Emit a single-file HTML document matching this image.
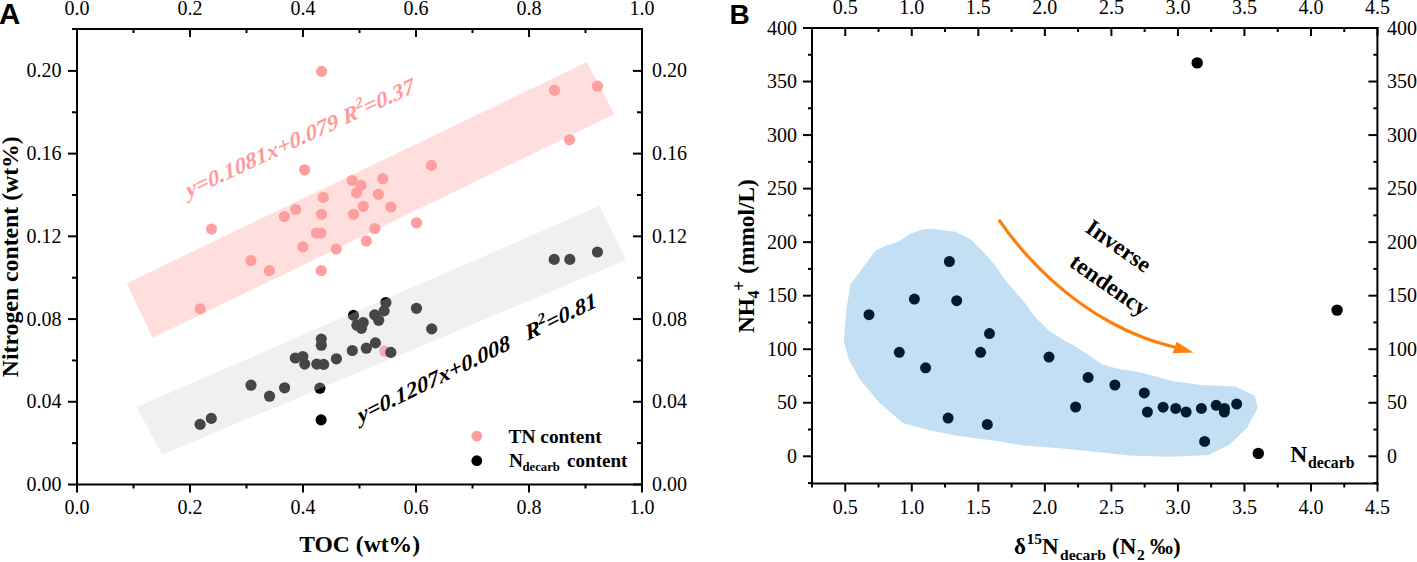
<!DOCTYPE html>
<html><head><meta charset="utf-8"><style>
html,body{margin:0;padding:0;background:#fff;}
body{width:1417px;height:562px;overflow:hidden;font-family:"Liberation Serif",serif;}
svg{display:block;}
</style></head><body>
<svg width="1417" height="562" viewBox="0 0 1417 562" shape-rendering="auto">
<rect width="1417" height="562" fill="#fff"/>
<polygon points="126.8,283.2 586.9,62.0 614.3,114.3 152.5,338.0" fill="#ffdede" />
<circle cx="321.60" cy="71.40" r="5.6" fill="#ff9e9e"/>
<circle cx="554.50" cy="90.40" r="5.6" fill="#ff9e9e"/>
<circle cx="597.40" cy="86.20" r="5.6" fill="#ff9e9e"/>
<circle cx="569.50" cy="139.80" r="5.6" fill="#ff9e9e"/>
<circle cx="431.40" cy="165.40" r="5.6" fill="#ff9e9e"/>
<circle cx="304.60" cy="169.80" r="5.6" fill="#ff9e9e"/>
<circle cx="352.10" cy="180.50" r="5.6" fill="#ff9e9e"/>
<circle cx="361.00" cy="185.40" r="5.6" fill="#ff9e9e"/>
<circle cx="382.80" cy="178.70" r="5.6" fill="#ff9e9e"/>
<circle cx="356.50" cy="192.90" r="5.6" fill="#ff9e9e"/>
<circle cx="378.40" cy="194.30" r="5.6" fill="#ff9e9e"/>
<circle cx="323.20" cy="197.40" r="5.6" fill="#ff9e9e"/>
<circle cx="363.30" cy="206.30" r="5.6" fill="#ff9e9e"/>
<circle cx="390.90" cy="207.00" r="5.6" fill="#ff9e9e"/>
<circle cx="295.70" cy="209.50" r="5.6" fill="#ff9e9e"/>
<circle cx="321.50" cy="214.30" r="5.6" fill="#ff9e9e"/>
<circle cx="353.50" cy="214.30" r="5.6" fill="#ff9e9e"/>
<circle cx="284.40" cy="216.60" r="5.6" fill="#ff9e9e"/>
<circle cx="416.50" cy="222.80" r="5.6" fill="#ff9e9e"/>
<circle cx="374.80" cy="228.50" r="5.6" fill="#ff9e9e"/>
<circle cx="316.50" cy="233.00" r="5.6" fill="#ff9e9e"/>
<circle cx="320.90" cy="233.00" r="5.6" fill="#ff9e9e"/>
<circle cx="366.30" cy="241.00" r="5.6" fill="#ff9e9e"/>
<circle cx="302.90" cy="246.80" r="5.6" fill="#ff9e9e"/>
<circle cx="336.20" cy="249.00" r="5.6" fill="#ff9e9e"/>
<circle cx="211.50" cy="229.00" r="5.6" fill="#ff9e9e"/>
<circle cx="250.90" cy="260.50" r="5.6" fill="#ff9e9e"/>
<circle cx="269.40" cy="270.60" r="5.6" fill="#ff9e9e"/>
<circle cx="321.20" cy="270.60" r="5.6" fill="#ff9e9e"/>
<circle cx="200.20" cy="308.90" r="5.6" fill="#ff9e9e"/>
<circle cx="384.80" cy="351.20" r="5.6" fill="#ff9e9e"/>
<circle cx="200.10" cy="424.40" r="5.6" fill="#000"/>
<circle cx="211.30" cy="418.40" r="5.6" fill="#000"/>
<circle cx="251.00" cy="385.20" r="5.6" fill="#000"/>
<circle cx="269.50" cy="396.20" r="5.6" fill="#000"/>
<circle cx="284.60" cy="387.80" r="5.6" fill="#000"/>
<circle cx="319.90" cy="388.20" r="5.6" fill="#000"/>
<circle cx="321.10" cy="419.90" r="5.6" fill="#000"/>
<circle cx="295.30" cy="358.00" r="5.6" fill="#000"/>
<circle cx="302.80" cy="356.50" r="5.6" fill="#000"/>
<circle cx="304.70" cy="364.10" r="5.6" fill="#000"/>
<circle cx="316.80" cy="364.10" r="5.6" fill="#000"/>
<circle cx="323.60" cy="364.40" r="5.6" fill="#000"/>
<circle cx="336.40" cy="358.80" r="5.6" fill="#000"/>
<circle cx="352.30" cy="350.50" r="5.6" fill="#000"/>
<circle cx="366.30" cy="348.20" r="5.6" fill="#000"/>
<circle cx="375.40" cy="342.90" r="5.6" fill="#000"/>
<circle cx="390.80" cy="352.40" r="5.6" fill="#000"/>
<circle cx="321.30" cy="339.10" r="5.6" fill="#000"/>
<circle cx="321.30" cy="345.20" r="5.6" fill="#000"/>
<circle cx="353.50" cy="315.40" r="5.6" fill="#000"/>
<circle cx="356.90" cy="325.20" r="5.6" fill="#000"/>
<circle cx="363.20" cy="322.50" r="5.6" fill="#000"/>
<circle cx="361.40" cy="328.30" r="5.6" fill="#000"/>
<circle cx="385.90" cy="302.50" r="5.6" fill="#000"/>
<circle cx="384.10" cy="310.90" r="5.6" fill="#000"/>
<circle cx="374.70" cy="314.90" r="5.6" fill="#000"/>
<circle cx="378.70" cy="320.30" r="5.6" fill="#000"/>
<circle cx="416.50" cy="308.30" r="5.6" fill="#000"/>
<circle cx="431.70" cy="328.90" r="5.6" fill="#000"/>
<circle cx="554.20" cy="259.40" r="5.6" fill="#000"/>
<circle cx="569.80" cy="259.40" r="5.6" fill="#000"/>
<circle cx="597.40" cy="252.00" r="5.6" fill="#000"/>
<polygon points="136.8,406.9 599.6,206.0 625.9,260.0 162.0,454.8" fill="rgb(210,210,210)" fill-opacity="0.333"/>
<g transform="matrix(1,-0.467,0.25,1,188.2,197.9)"><text x="0" y="0" font-family='"Liberation Serif", serif' font-size="21.4" font-weight="bold" font-style="italic" fill="#ff9999">y=0.1081x+0.079 R<tspan font-size="14.5" dy="-9" dx="-0.5">2</tspan><tspan dy="9">=0.37</tspan></text></g>
<g transform="matrix(1,-0.4915,0.25,1,359.9,423.2)"><text x="0" y="0" font-family='"Liberation Serif", serif' font-size="21.4" font-weight="bold" font-style="italic" fill="#000">y=0.1207x+0.008 &#160;&#160;R<tspan font-size="14.5" dy="-9" dx="-0.5">2</tspan><tspan dy="9">=0.81</tspan></text></g>
<circle cx="476.80" cy="436.10" r="5.4" fill="#ff9e9e"/>
<circle cx="476.80" cy="460.70" r="5.4" fill="#000"/>
<text x="508.50" y="443.10" font-family='"Liberation Serif", serif' font-size="19.4" text-anchor="start" font-weight="bold" font-style="normal" fill="#000" >TN content</text>
<text x="509.00" y="467.30" font-family='"Liberation Serif", serif' font-size="19.4" text-anchor="start" font-weight="bold" font-style="normal" fill="#000" >N</text>
<text x="522.50" y="471.40" font-family='"Liberation Serif", serif' font-size="12.7" text-anchor="start" font-weight="bold" font-style="normal" fill="#000" >decarb</text>
<text x="567.00" y="467.30" font-family='"Liberation Serif", serif' font-size="19.1" text-anchor="start" font-weight="bold" font-style="normal" fill="#000" >content</text>
<line x1="77.00" y1="29.00" x2="77.00" y2="485.50" stroke="#000" stroke-width="2"/>
<line x1="642.00" y1="28.00" x2="642.00" y2="485.50" stroke="#000" stroke-width="2"/>
<line x1="76.00" y1="29.00" x2="643.00" y2="29.00" stroke="#000" stroke-width="2"/>
<line x1="76.00" y1="484.50" x2="643.00" y2="484.50" stroke="#000" stroke-width="2"/>
<line x1="77.00" y1="484.50" x2="77.00" y2="492.50" stroke="#000" stroke-width="2"/>
<line x1="77.00" y1="29.00" x2="77.00" y2="37.00" stroke="#000" stroke-width="2"/>
<text x="77.00" y="513.50" font-family='"Liberation Serif", serif' font-size="20" text-anchor="middle" font-weight="normal" font-style="normal" fill="#000" >0.0</text>
<text x="77.00" y="15.20" font-family='"Liberation Serif", serif' font-size="20" text-anchor="middle" font-weight="normal" font-style="normal" fill="#000" >0.0</text>
<line x1="133.50" y1="484.50" x2="133.50" y2="488.50" stroke="#000" stroke-width="2"/>
<line x1="133.50" y1="29.00" x2="133.50" y2="33.00" stroke="#000" stroke-width="2"/>
<line x1="190.00" y1="484.50" x2="190.00" y2="492.50" stroke="#000" stroke-width="2"/>
<line x1="190.00" y1="29.00" x2="190.00" y2="37.00" stroke="#000" stroke-width="2"/>
<text x="190.00" y="513.50" font-family='"Liberation Serif", serif' font-size="20" text-anchor="middle" font-weight="normal" font-style="normal" fill="#000" >0.2</text>
<text x="190.00" y="15.20" font-family='"Liberation Serif", serif' font-size="20" text-anchor="middle" font-weight="normal" font-style="normal" fill="#000" >0.2</text>
<line x1="246.50" y1="484.50" x2="246.50" y2="488.50" stroke="#000" stroke-width="2"/>
<line x1="246.50" y1="29.00" x2="246.50" y2="33.00" stroke="#000" stroke-width="2"/>
<line x1="303.00" y1="484.50" x2="303.00" y2="492.50" stroke="#000" stroke-width="2"/>
<line x1="303.00" y1="29.00" x2="303.00" y2="37.00" stroke="#000" stroke-width="2"/>
<text x="303.00" y="513.50" font-family='"Liberation Serif", serif' font-size="20" text-anchor="middle" font-weight="normal" font-style="normal" fill="#000" >0.4</text>
<text x="303.00" y="15.20" font-family='"Liberation Serif", serif' font-size="20" text-anchor="middle" font-weight="normal" font-style="normal" fill="#000" >0.4</text>
<line x1="359.50" y1="484.50" x2="359.50" y2="488.50" stroke="#000" stroke-width="2"/>
<line x1="359.50" y1="29.00" x2="359.50" y2="33.00" stroke="#000" stroke-width="2"/>
<line x1="416.00" y1="484.50" x2="416.00" y2="492.50" stroke="#000" stroke-width="2"/>
<line x1="416.00" y1="29.00" x2="416.00" y2="37.00" stroke="#000" stroke-width="2"/>
<text x="416.00" y="513.50" font-family='"Liberation Serif", serif' font-size="20" text-anchor="middle" font-weight="normal" font-style="normal" fill="#000" >0.6</text>
<text x="416.00" y="15.20" font-family='"Liberation Serif", serif' font-size="20" text-anchor="middle" font-weight="normal" font-style="normal" fill="#000" >0.6</text>
<line x1="472.50" y1="484.50" x2="472.50" y2="488.50" stroke="#000" stroke-width="2"/>
<line x1="472.50" y1="29.00" x2="472.50" y2="33.00" stroke="#000" stroke-width="2"/>
<line x1="529.00" y1="484.50" x2="529.00" y2="492.50" stroke="#000" stroke-width="2"/>
<line x1="529.00" y1="29.00" x2="529.00" y2="37.00" stroke="#000" stroke-width="2"/>
<text x="529.00" y="513.50" font-family='"Liberation Serif", serif' font-size="20" text-anchor="middle" font-weight="normal" font-style="normal" fill="#000" >0.8</text>
<text x="529.00" y="15.20" font-family='"Liberation Serif", serif' font-size="20" text-anchor="middle" font-weight="normal" font-style="normal" fill="#000" >0.8</text>
<line x1="585.50" y1="484.50" x2="585.50" y2="488.50" stroke="#000" stroke-width="2"/>
<line x1="585.50" y1="29.00" x2="585.50" y2="33.00" stroke="#000" stroke-width="2"/>
<line x1="642.00" y1="484.50" x2="642.00" y2="492.50" stroke="#000" stroke-width="2"/>
<line x1="642.00" y1="29.00" x2="642.00" y2="37.00" stroke="#000" stroke-width="2"/>
<text x="642.00" y="513.50" font-family='"Liberation Serif", serif' font-size="20" text-anchor="middle" font-weight="normal" font-style="normal" fill="#000" >1.0</text>
<text x="642.00" y="15.20" font-family='"Liberation Serif", serif' font-size="20" text-anchor="middle" font-weight="normal" font-style="normal" fill="#000" >1.0</text>
<line x1="68.00" y1="484.50" x2="77.00" y2="484.50" stroke="#000" stroke-width="2"/>
<line x1="642.00" y1="484.50" x2="633.00" y2="484.50" stroke="#000" stroke-width="2"/>
<text x="61.50" y="491.00" font-family='"Liberation Serif", serif' font-size="20" text-anchor="end" font-weight="normal" font-style="normal" fill="#000" >0.00</text>
<text x="652.00" y="491.00" font-family='"Liberation Serif", serif' font-size="20" text-anchor="start" font-weight="normal" font-style="normal" fill="#000" >0.00</text>
<line x1="72.00" y1="443.14" x2="77.00" y2="443.14" stroke="#000" stroke-width="2"/>
<line x1="642.00" y1="443.14" x2="637.00" y2="443.14" stroke="#000" stroke-width="2"/>
<line x1="68.00" y1="401.78" x2="77.00" y2="401.78" stroke="#000" stroke-width="2"/>
<line x1="642.00" y1="401.78" x2="633.00" y2="401.78" stroke="#000" stroke-width="2"/>
<text x="61.50" y="408.28" font-family='"Liberation Serif", serif' font-size="20" text-anchor="end" font-weight="normal" font-style="normal" fill="#000" >0.04</text>
<text x="652.00" y="408.28" font-family='"Liberation Serif", serif' font-size="20" text-anchor="start" font-weight="normal" font-style="normal" fill="#000" >0.04</text>
<line x1="72.00" y1="360.42" x2="77.00" y2="360.42" stroke="#000" stroke-width="2"/>
<line x1="642.00" y1="360.42" x2="637.00" y2="360.42" stroke="#000" stroke-width="2"/>
<line x1="68.00" y1="319.06" x2="77.00" y2="319.06" stroke="#000" stroke-width="2"/>
<line x1="642.00" y1="319.06" x2="633.00" y2="319.06" stroke="#000" stroke-width="2"/>
<text x="61.50" y="325.56" font-family='"Liberation Serif", serif' font-size="20" text-anchor="end" font-weight="normal" font-style="normal" fill="#000" >0.08</text>
<text x="652.00" y="325.56" font-family='"Liberation Serif", serif' font-size="20" text-anchor="start" font-weight="normal" font-style="normal" fill="#000" >0.08</text>
<line x1="72.00" y1="277.70" x2="77.00" y2="277.70" stroke="#000" stroke-width="2"/>
<line x1="642.00" y1="277.70" x2="637.00" y2="277.70" stroke="#000" stroke-width="2"/>
<line x1="68.00" y1="236.34" x2="77.00" y2="236.34" stroke="#000" stroke-width="2"/>
<line x1="642.00" y1="236.34" x2="633.00" y2="236.34" stroke="#000" stroke-width="2"/>
<text x="61.50" y="242.84" font-family='"Liberation Serif", serif' font-size="20" text-anchor="end" font-weight="normal" font-style="normal" fill="#000" >0.12</text>
<text x="652.00" y="242.84" font-family='"Liberation Serif", serif' font-size="20" text-anchor="start" font-weight="normal" font-style="normal" fill="#000" >0.12</text>
<line x1="72.00" y1="194.98" x2="77.00" y2="194.98" stroke="#000" stroke-width="2"/>
<line x1="642.00" y1="194.98" x2="637.00" y2="194.98" stroke="#000" stroke-width="2"/>
<line x1="68.00" y1="153.62" x2="77.00" y2="153.62" stroke="#000" stroke-width="2"/>
<line x1="642.00" y1="153.62" x2="633.00" y2="153.62" stroke="#000" stroke-width="2"/>
<text x="61.50" y="160.12" font-family='"Liberation Serif", serif' font-size="20" text-anchor="end" font-weight="normal" font-style="normal" fill="#000" >0.16</text>
<text x="652.00" y="160.12" font-family='"Liberation Serif", serif' font-size="20" text-anchor="start" font-weight="normal" font-style="normal" fill="#000" >0.16</text>
<line x1="72.00" y1="112.26" x2="77.00" y2="112.26" stroke="#000" stroke-width="2"/>
<line x1="642.00" y1="112.26" x2="637.00" y2="112.26" stroke="#000" stroke-width="2"/>
<line x1="68.00" y1="70.90" x2="77.00" y2="70.90" stroke="#000" stroke-width="2"/>
<line x1="642.00" y1="70.90" x2="633.00" y2="70.90" stroke="#000" stroke-width="2"/>
<text x="61.50" y="77.40" font-family='"Liberation Serif", serif' font-size="20" text-anchor="end" font-weight="normal" font-style="normal" fill="#000" >0.20</text>
<text x="652.00" y="77.40" font-family='"Liberation Serif", serif' font-size="20" text-anchor="start" font-weight="normal" font-style="normal" fill="#000" >0.20</text>
<line x1="72.00" y1="29.00" x2="77.00" y2="29.00" stroke="#000" stroke-width="2"/>
<line x1="642.00" y1="29.00" x2="637.00" y2="29.00" stroke="#000" stroke-width="2"/>
<text x="359.60" y="552.40" font-family='"Liberation Serif", serif' font-size="23.6" text-anchor="middle" font-weight="bold" font-style="normal" fill="#000" >TOC (wt%)</text>
<text transform="translate(18.4,256.7) rotate(-90)" font-family='"Liberation Serif", serif' font-size="23.75" font-weight="bold" text-anchor="middle">Nitrogen content (wt%)</text>
<text x="-0.90" y="23.80" font-family='"Liberation Sans", sans-serif' font-size="29.5" text-anchor="start" font-weight="bold" font-style="normal" fill="#000" >A</text>
<polygon points="844.7,329.6 846.6,308.0 850.5,284.6 863.3,267.0 876.0,250.3 886.7,245.4 898.5,241.5 910.2,233.7 922.0,229.4 931.7,228.8 955.2,231.7 970.9,239.6 984.6,253.3 996.3,267.0 1004.1,278.7 1011.7,287.6 1023.5,301.3 1035.2,317.0 1048.9,330.7 1064.6,340.4 1078.3,348.3 1090.0,356.1 1101.7,363.9 1117.4,368.8 1137.0,371.7 1151.4,375.3 1174.5,381.6 1201.2,385.1 1235.0,386.4 1254.6,395.8 1257.8,407.4 1247.5,427.0 1229.7,444.7 1208.3,455.1 1183.4,456.3 1165.6,456.7 1130.0,455.4 1092.5,451.4 1057.8,447.9 1023.1,445.6 1000.0,441.5 957.5,435.8 928.1,429.9 902.7,423.0 879.2,402.5 859.6,379.0 848.8,359.4 843.9,341.8" fill="#c3dff3" />
<circle cx="949.40" cy="261.50" r="5.5" fill="#021a2e"/>
<circle cx="914.40" cy="299.10" r="5.5" fill="#021a2e"/>
<circle cx="956.70" cy="300.70" r="5.5" fill="#021a2e"/>
<circle cx="869.00" cy="314.70" r="5.5" fill="#021a2e"/>
<circle cx="989.50" cy="333.60" r="5.5" fill="#021a2e"/>
<circle cx="899.30" cy="352.30" r="5.5" fill="#021a2e"/>
<circle cx="980.60" cy="352.30" r="5.5" fill="#021a2e"/>
<circle cx="925.60" cy="367.80" r="5.5" fill="#021a2e"/>
<circle cx="948.10" cy="418.10" r="5.5" fill="#021a2e"/>
<circle cx="987.30" cy="424.40" r="5.5" fill="#021a2e"/>
<circle cx="1049.00" cy="357.10" r="5.5" fill="#021a2e"/>
<circle cx="1088.10" cy="377.40" r="5.5" fill="#021a2e"/>
<circle cx="1114.90" cy="385.00" r="5.5" fill="#021a2e"/>
<circle cx="1075.60" cy="407.00" r="5.5" fill="#021a2e"/>
<circle cx="1144.30" cy="392.90" r="5.5" fill="#021a2e"/>
<circle cx="1147.40" cy="412.00" r="5.5" fill="#021a2e"/>
<circle cx="1163.10" cy="407.20" r="5.5" fill="#021a2e"/>
<circle cx="1175.70" cy="408.40" r="5.5" fill="#021a2e"/>
<circle cx="1186.10" cy="412.00" r="5.5" fill="#021a2e"/>
<circle cx="1201.40" cy="408.40" r="5.5" fill="#021a2e"/>
<circle cx="1216.20" cy="405.30" r="5.5" fill="#021a2e"/>
<circle cx="1224.50" cy="408.40" r="5.5" fill="#021a2e"/>
<circle cx="1224.30" cy="412.10" r="5.5" fill="#021a2e"/>
<circle cx="1236.70" cy="404.00" r="5.5" fill="#021a2e"/>
<circle cx="1204.60" cy="441.40" r="5.5" fill="#021a2e"/>
<circle cx="1197.20" cy="62.90" r="5.7" fill="#000"/>
<circle cx="1337.10" cy="310.10" r="5.7" fill="#000"/>
<circle cx="1258.30" cy="453.40" r="5.7" fill="#000"/>
<path d="M998.8,219.6 C1030,265 1070,300 1110,322 C1135,336 1155,342 1176,347.5" fill="none" stroke="#ff7f0e" stroke-width="3.2"/>
<polygon points="1193.4,352.4 1176.6,341.8 1172.6,353.2" fill="#ff7f0e" />
<text transform="translate(1084,231) rotate(35)" font-family='"Liberation Serif", serif' font-size="23.3" font-weight="bold" fill="#000">Inverse</text>
<text transform="translate(1068,265.5) rotate(35)" font-family='"Liberation Serif", serif' font-size="23.6" font-weight="bold" fill="#000">tendency</text>
<text x="1290.30" y="462.00" font-family='"Liberation Serif", serif' font-size="23.5" text-anchor="start" font-weight="bold" font-style="normal" fill="#000" >N</text>
<text x="1308.00" y="467.80" font-family='"Liberation Serif", serif' font-size="15.8" text-anchor="start" font-weight="bold" font-style="normal" fill="#000" >decarb</text>
<line x1="812.00" y1="28.00" x2="812.00" y2="484.50" stroke="#000" stroke-width="2"/>
<line x1="1377.40" y1="27.00" x2="1377.40" y2="484.50" stroke="#000" stroke-width="2"/>
<line x1="811.00" y1="28.00" x2="1378.40" y2="28.00" stroke="#000" stroke-width="2"/>
<line x1="811.00" y1="483.50" x2="1378.40" y2="483.50" stroke="#000" stroke-width="2"/>
<line x1="811.97" y1="483.50" x2="811.97" y2="487.50" stroke="#000" stroke-width="2"/>
<line x1="811.97" y1="28.00" x2="811.97" y2="32.00" stroke="#000" stroke-width="2"/>
<line x1="845.24" y1="483.50" x2="845.24" y2="491.50" stroke="#000" stroke-width="2"/>
<line x1="845.24" y1="28.00" x2="845.24" y2="36.00" stroke="#000" stroke-width="2"/>
<text x="845.24" y="514.00" font-family='"Liberation Serif", serif' font-size="20" text-anchor="middle" font-weight="normal" font-style="normal" fill="#000" >0.5</text>
<text x="845.24" y="14.40" font-family='"Liberation Serif", serif' font-size="20" text-anchor="middle" font-weight="normal" font-style="normal" fill="#000" >0.5</text>
<line x1="878.50" y1="483.50" x2="878.50" y2="487.50" stroke="#000" stroke-width="2"/>
<line x1="878.50" y1="28.00" x2="878.50" y2="32.00" stroke="#000" stroke-width="2"/>
<line x1="911.77" y1="483.50" x2="911.77" y2="491.50" stroke="#000" stroke-width="2"/>
<line x1="911.77" y1="28.00" x2="911.77" y2="36.00" stroke="#000" stroke-width="2"/>
<text x="911.77" y="514.00" font-family='"Liberation Serif", serif' font-size="20" text-anchor="middle" font-weight="normal" font-style="normal" fill="#000" >1.0</text>
<text x="911.77" y="14.40" font-family='"Liberation Serif", serif' font-size="20" text-anchor="middle" font-weight="normal" font-style="normal" fill="#000" >1.0</text>
<line x1="945.04" y1="483.50" x2="945.04" y2="487.50" stroke="#000" stroke-width="2"/>
<line x1="945.04" y1="28.00" x2="945.04" y2="32.00" stroke="#000" stroke-width="2"/>
<line x1="978.31" y1="483.50" x2="978.31" y2="491.50" stroke="#000" stroke-width="2"/>
<line x1="978.31" y1="28.00" x2="978.31" y2="36.00" stroke="#000" stroke-width="2"/>
<text x="978.31" y="514.00" font-family='"Liberation Serif", serif' font-size="20" text-anchor="middle" font-weight="normal" font-style="normal" fill="#000" >1.5</text>
<text x="978.31" y="14.40" font-family='"Liberation Serif", serif' font-size="20" text-anchor="middle" font-weight="normal" font-style="normal" fill="#000" >1.5</text>
<line x1="1011.57" y1="483.50" x2="1011.57" y2="487.50" stroke="#000" stroke-width="2"/>
<line x1="1011.57" y1="28.00" x2="1011.57" y2="32.00" stroke="#000" stroke-width="2"/>
<line x1="1044.84" y1="483.50" x2="1044.84" y2="491.50" stroke="#000" stroke-width="2"/>
<line x1="1044.84" y1="28.00" x2="1044.84" y2="36.00" stroke="#000" stroke-width="2"/>
<text x="1044.84" y="514.00" font-family='"Liberation Serif", serif' font-size="20" text-anchor="middle" font-weight="normal" font-style="normal" fill="#000" >2.0</text>
<text x="1044.84" y="14.40" font-family='"Liberation Serif", serif' font-size="20" text-anchor="middle" font-weight="normal" font-style="normal" fill="#000" >2.0</text>
<line x1="1078.11" y1="483.50" x2="1078.11" y2="487.50" stroke="#000" stroke-width="2"/>
<line x1="1078.11" y1="28.00" x2="1078.11" y2="32.00" stroke="#000" stroke-width="2"/>
<line x1="1111.38" y1="483.50" x2="1111.38" y2="491.50" stroke="#000" stroke-width="2"/>
<line x1="1111.38" y1="28.00" x2="1111.38" y2="36.00" stroke="#000" stroke-width="2"/>
<text x="1111.38" y="514.00" font-family='"Liberation Serif", serif' font-size="20" text-anchor="middle" font-weight="normal" font-style="normal" fill="#000" >2.5</text>
<text x="1111.38" y="14.40" font-family='"Liberation Serif", serif' font-size="20" text-anchor="middle" font-weight="normal" font-style="normal" fill="#000" >2.5</text>
<line x1="1144.64" y1="483.50" x2="1144.64" y2="487.50" stroke="#000" stroke-width="2"/>
<line x1="1144.64" y1="28.00" x2="1144.64" y2="32.00" stroke="#000" stroke-width="2"/>
<line x1="1177.91" y1="483.50" x2="1177.91" y2="491.50" stroke="#000" stroke-width="2"/>
<line x1="1177.91" y1="28.00" x2="1177.91" y2="36.00" stroke="#000" stroke-width="2"/>
<text x="1177.91" y="514.00" font-family='"Liberation Serif", serif' font-size="20" text-anchor="middle" font-weight="normal" font-style="normal" fill="#000" >3.0</text>
<text x="1177.91" y="14.40" font-family='"Liberation Serif", serif' font-size="20" text-anchor="middle" font-weight="normal" font-style="normal" fill="#000" >3.0</text>
<line x1="1211.18" y1="483.50" x2="1211.18" y2="487.50" stroke="#000" stroke-width="2"/>
<line x1="1211.18" y1="28.00" x2="1211.18" y2="32.00" stroke="#000" stroke-width="2"/>
<line x1="1244.45" y1="483.50" x2="1244.45" y2="491.50" stroke="#000" stroke-width="2"/>
<line x1="1244.45" y1="28.00" x2="1244.45" y2="36.00" stroke="#000" stroke-width="2"/>
<text x="1244.45" y="514.00" font-family='"Liberation Serif", serif' font-size="20" text-anchor="middle" font-weight="normal" font-style="normal" fill="#000" >3.5</text>
<text x="1244.45" y="14.40" font-family='"Liberation Serif", serif' font-size="20" text-anchor="middle" font-weight="normal" font-style="normal" fill="#000" >3.5</text>
<line x1="1277.71" y1="483.50" x2="1277.71" y2="487.50" stroke="#000" stroke-width="2"/>
<line x1="1277.71" y1="28.00" x2="1277.71" y2="32.00" stroke="#000" stroke-width="2"/>
<line x1="1310.98" y1="483.50" x2="1310.98" y2="491.50" stroke="#000" stroke-width="2"/>
<line x1="1310.98" y1="28.00" x2="1310.98" y2="36.00" stroke="#000" stroke-width="2"/>
<text x="1310.98" y="514.00" font-family='"Liberation Serif", serif' font-size="20" text-anchor="middle" font-weight="normal" font-style="normal" fill="#000" >4.0</text>
<text x="1310.98" y="14.40" font-family='"Liberation Serif", serif' font-size="20" text-anchor="middle" font-weight="normal" font-style="normal" fill="#000" >4.0</text>
<line x1="1344.25" y1="483.50" x2="1344.25" y2="487.50" stroke="#000" stroke-width="2"/>
<line x1="1344.25" y1="28.00" x2="1344.25" y2="32.00" stroke="#000" stroke-width="2"/>
<line x1="1377.51" y1="483.50" x2="1377.51" y2="491.50" stroke="#000" stroke-width="2"/>
<line x1="1377.51" y1="28.00" x2="1377.51" y2="36.00" stroke="#000" stroke-width="2"/>
<text x="1377.51" y="514.00" font-family='"Liberation Serif", serif' font-size="20" text-anchor="middle" font-weight="normal" font-style="normal" fill="#000" >4.5</text>
<text x="1377.51" y="14.40" font-family='"Liberation Serif", serif' font-size="20" text-anchor="middle" font-weight="normal" font-style="normal" fill="#000" >4.5</text>
<line x1="808.00" y1="483.07" x2="812.00" y2="483.07" stroke="#000" stroke-width="2"/>
<line x1="1377.40" y1="483.07" x2="1373.40" y2="483.07" stroke="#000" stroke-width="2"/>
<line x1="803.00" y1="456.30" x2="812.00" y2="456.30" stroke="#000" stroke-width="2"/>
<line x1="1377.40" y1="456.30" x2="1368.40" y2="456.30" stroke="#000" stroke-width="2"/>
<text x="797.00" y="462.80" font-family='"Liberation Serif", serif' font-size="20" text-anchor="end" font-weight="normal" font-style="normal" fill="#000" >0</text>
<text x="1387.00" y="462.80" font-family='"Liberation Serif", serif' font-size="20" text-anchor="start" font-weight="normal" font-style="normal" fill="#000" >0</text>
<line x1="808.00" y1="429.53" x2="812.00" y2="429.53" stroke="#000" stroke-width="2"/>
<line x1="1377.40" y1="429.53" x2="1373.40" y2="429.53" stroke="#000" stroke-width="2"/>
<line x1="803.00" y1="402.76" x2="812.00" y2="402.76" stroke="#000" stroke-width="2"/>
<line x1="1377.40" y1="402.76" x2="1368.40" y2="402.76" stroke="#000" stroke-width="2"/>
<text x="797.00" y="409.26" font-family='"Liberation Serif", serif' font-size="20" text-anchor="end" font-weight="normal" font-style="normal" fill="#000" >50</text>
<text x="1387.00" y="409.26" font-family='"Liberation Serif", serif' font-size="20" text-anchor="start" font-weight="normal" font-style="normal" fill="#000" >50</text>
<line x1="808.00" y1="375.99" x2="812.00" y2="375.99" stroke="#000" stroke-width="2"/>
<line x1="1377.40" y1="375.99" x2="1373.40" y2="375.99" stroke="#000" stroke-width="2"/>
<line x1="803.00" y1="349.23" x2="812.00" y2="349.23" stroke="#000" stroke-width="2"/>
<line x1="1377.40" y1="349.23" x2="1368.40" y2="349.23" stroke="#000" stroke-width="2"/>
<text x="797.00" y="355.73" font-family='"Liberation Serif", serif' font-size="20" text-anchor="end" font-weight="normal" font-style="normal" fill="#000" >100</text>
<text x="1387.00" y="355.73" font-family='"Liberation Serif", serif' font-size="20" text-anchor="start" font-weight="normal" font-style="normal" fill="#000" >100</text>
<line x1="808.00" y1="322.46" x2="812.00" y2="322.46" stroke="#000" stroke-width="2"/>
<line x1="1377.40" y1="322.46" x2="1373.40" y2="322.46" stroke="#000" stroke-width="2"/>
<line x1="803.00" y1="295.69" x2="812.00" y2="295.69" stroke="#000" stroke-width="2"/>
<line x1="1377.40" y1="295.69" x2="1368.40" y2="295.69" stroke="#000" stroke-width="2"/>
<text x="797.00" y="302.19" font-family='"Liberation Serif", serif' font-size="20" text-anchor="end" font-weight="normal" font-style="normal" fill="#000" >150</text>
<text x="1387.00" y="302.19" font-family='"Liberation Serif", serif' font-size="20" text-anchor="start" font-weight="normal" font-style="normal" fill="#000" >150</text>
<line x1="808.00" y1="268.92" x2="812.00" y2="268.92" stroke="#000" stroke-width="2"/>
<line x1="1377.40" y1="268.92" x2="1373.40" y2="268.92" stroke="#000" stroke-width="2"/>
<line x1="803.00" y1="242.15" x2="812.00" y2="242.15" stroke="#000" stroke-width="2"/>
<line x1="1377.40" y1="242.15" x2="1368.40" y2="242.15" stroke="#000" stroke-width="2"/>
<text x="797.00" y="248.65" font-family='"Liberation Serif", serif' font-size="20" text-anchor="end" font-weight="normal" font-style="normal" fill="#000" >200</text>
<text x="1387.00" y="248.65" font-family='"Liberation Serif", serif' font-size="20" text-anchor="start" font-weight="normal" font-style="normal" fill="#000" >200</text>
<line x1="808.00" y1="215.38" x2="812.00" y2="215.38" stroke="#000" stroke-width="2"/>
<line x1="1377.40" y1="215.38" x2="1373.40" y2="215.38" stroke="#000" stroke-width="2"/>
<line x1="803.00" y1="188.61" x2="812.00" y2="188.61" stroke="#000" stroke-width="2"/>
<line x1="1377.40" y1="188.61" x2="1368.40" y2="188.61" stroke="#000" stroke-width="2"/>
<text x="797.00" y="195.11" font-family='"Liberation Serif", serif' font-size="20" text-anchor="end" font-weight="normal" font-style="normal" fill="#000" >250</text>
<text x="1387.00" y="195.11" font-family='"Liberation Serif", serif' font-size="20" text-anchor="start" font-weight="normal" font-style="normal" fill="#000" >250</text>
<line x1="808.00" y1="161.84" x2="812.00" y2="161.84" stroke="#000" stroke-width="2"/>
<line x1="1377.40" y1="161.84" x2="1373.40" y2="161.84" stroke="#000" stroke-width="2"/>
<line x1="803.00" y1="135.07" x2="812.00" y2="135.07" stroke="#000" stroke-width="2"/>
<line x1="1377.40" y1="135.07" x2="1368.40" y2="135.07" stroke="#000" stroke-width="2"/>
<text x="797.00" y="141.57" font-family='"Liberation Serif", serif' font-size="20" text-anchor="end" font-weight="normal" font-style="normal" fill="#000" >300</text>
<text x="1387.00" y="141.57" font-family='"Liberation Serif", serif' font-size="20" text-anchor="start" font-weight="normal" font-style="normal" fill="#000" >300</text>
<line x1="808.00" y1="108.31" x2="812.00" y2="108.31" stroke="#000" stroke-width="2"/>
<line x1="1377.40" y1="108.31" x2="1373.40" y2="108.31" stroke="#000" stroke-width="2"/>
<line x1="803.00" y1="81.54" x2="812.00" y2="81.54" stroke="#000" stroke-width="2"/>
<line x1="1377.40" y1="81.54" x2="1368.40" y2="81.54" stroke="#000" stroke-width="2"/>
<text x="797.00" y="88.04" font-family='"Liberation Serif", serif' font-size="20" text-anchor="end" font-weight="normal" font-style="normal" fill="#000" >350</text>
<text x="1387.00" y="88.04" font-family='"Liberation Serif", serif' font-size="20" text-anchor="start" font-weight="normal" font-style="normal" fill="#000" >350</text>
<line x1="808.00" y1="54.77" x2="812.00" y2="54.77" stroke="#000" stroke-width="2"/>
<line x1="1377.40" y1="54.77" x2="1373.40" y2="54.77" stroke="#000" stroke-width="2"/>
<line x1="803.00" y1="28.00" x2="812.00" y2="28.00" stroke="#000" stroke-width="2"/>
<line x1="1377.40" y1="28.00" x2="1368.40" y2="28.00" stroke="#000" stroke-width="2"/>
<text x="797.00" y="34.50" font-family='"Liberation Serif", serif' font-size="20" text-anchor="end" font-weight="normal" font-style="normal" fill="#000" >400</text>
<text x="1387.00" y="34.50" font-family='"Liberation Serif", serif' font-size="20" text-anchor="start" font-weight="normal" font-style="normal" fill="#000" >400</text>
<text x="1014.00" y="553.80" font-family='"Liberation Serif", serif' font-size="23" text-anchor="start" font-weight="bold" font-style="normal" fill="#000" >&#948;</text>
<text x="1026.50" y="543.50" font-family='"Liberation Serif", serif' font-size="15.5" text-anchor="start" font-weight="bold" font-style="normal" fill="#000" >15</text>
<text x="1042.00" y="553.80" font-family='"Liberation Serif", serif' font-size="23" text-anchor="start" font-weight="bold" font-style="normal" fill="#000" >N</text>
<text x="1060.00" y="559.70" font-family='"Liberation Serif", serif' font-size="15.6" text-anchor="start" font-weight="bold" font-style="normal" fill="#000" >decarb</text>
<text x="1112.00" y="553.80" font-family='"Liberation Serif", serif' font-size="23" text-anchor="start" font-weight="bold" font-style="normal" fill="#000" >(N</text>
<text x="1137.00" y="559.70" font-family='"Liberation Serif", serif' font-size="15.6" text-anchor="start" font-weight="bold" font-style="normal" fill="#000" >2</text>
<text x="1150.00" y="553.80" font-family='"Liberation Serif", serif' font-size="23" text-anchor="start" font-weight="bold" font-style="normal" fill="#000" >&#8240;)</text>
<g transform="translate(753.6,333) rotate(-90)"><text x="0" y="0" font-family='"Liberation Serif", serif' font-size="23.3" font-weight="bold">NH</text><text x="34.4" y="5.5" font-family='"Liberation Serif", serif' font-size="16.2" font-weight="bold">4</text><text x="42" y="-9" font-family='"Liberation Serif", serif' font-size="18" font-weight="bold">+</text><text x="59.3" y="0" font-family='"Liberation Serif", serif' font-size="23.3" font-weight="bold">(mmol/L)</text></g>
<text x="729.50" y="23.70" font-family='"Liberation Sans", sans-serif' font-size="28" text-anchor="start" font-weight="bold" font-style="normal" fill="#000" >B</text>
</svg>
</body></html>
